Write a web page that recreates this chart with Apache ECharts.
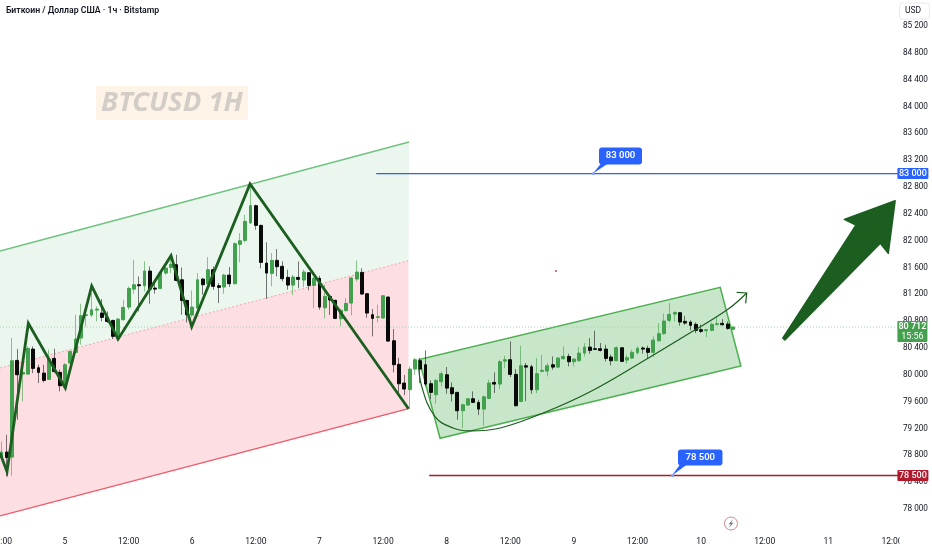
<!DOCTYPE html>
<html><head><meta charset="utf-8">
<style>html,body{margin:0;padding:0;background:#fff}#c{width:932px;height:550px}</style>
<script src="https://cdn.jsdelivr.net/npm/echarts@6/dist/echarts.min.js"></script>
</head><body><div id="c"></div>
<script>
const xTickLabels = ['12:00','5','12:00','6','12:00','7','12:00','8','12:00','9','12:00','10','12:00','11','12:00'];
const firstHour = -12;
const opens = [78768,78848,78773,80215,80011,80011,80384,80105,80026,79931,
80245,80036,79827,80175,80334,80548,80886,80891,80965,80921,
80856,80811,80548,80821,81010,81278,81343,81328,81547,81293,
81288,81517,81601,81641,81417,81109,80891,80995,81427,81358,
81567,81328,81309,81487,81358,81945,82004,82263,82521,82228,
81666,81512,81706,81617,81453,81338,81453,81413,81522,81333,
81438,81000,81169,81110,80836,80956,81070,81428,81527,81209,
80896,80856,80846,81159,80508,80156,79877,79778,80086,80210,
80150,79867,79703,79897,80001,79807,79738,79464,79549,79643,
79589,79489,79648,79887,79862,80205,80225,80006,79603,80135,
80120,79777,80051,80056,80150,80115,80240,80274,80195,80210,
80324,80414,80389,80389,80384,80265,80210,80404,80220,80250,
80330,80399,80394,80335,80508,80613,80812,80906,80926,80797,
80787,80752,80673,80658,80663,80752,80767,80757,80678];
const closes = [78848,78768,80210,80001,80036,80394,80096,80036,79917,80235,
80051,79837,80150,80349,80533,80881,80896,80970,80980,80856,
80796,80573,80831,81005,81288,81343,81328,81547,81278,81278,
81517,81591,81646,81408,81109,80896,81010,81417,81343,81567,
81319,81304,81487,81358,81955,81999,82288,82521,82228,81676,
81517,81706,81612,81433,81338,81458,81423,81532,81333,81438,
81010,81169,81115,80841,80961,81065,81443,81532,81204,80921,
80841,80866,81179,80503,80151,79867,79788,80086,80225,80086,
79862,79738,79917,80016,79802,79718,79464,79554,79643,79589,
79489,79673,79877,79862,80195,80225,80006,79539,80135,80115,
79777,80016,80066,80135,80115,80250,80274,80195,80235,80324,
80414,80364,80379,80364,80245,80210,80404,80200,80255,80335,
80394,80384,80335,80518,80613,80802,80901,80931,80787,80772,
80737,80663,80648,80673,80752,80762,80747,80692,80712];
const highs = [79007,79107,80548,80384,80225,80424,80424,80150,80150,80374,
80389,80076,80175,80364,80896,81060,80970,81219,81020,81129,
80945,80821,80846,81119,81318,81716,81467,81691,81616,81417,
81542,81616,81765,81790,81601,81119,81258,81517,81442,81755,
81616,81368,81507,81607,81975,82114,82387,82810,82536,82238,
81975,81816,81875,81691,81567,81492,81691,81567,81527,81458,
81478,81343,81194,81120,80981,81145,81458,81706,81587,81209,
80981,81045,81189,81169,80682,80255,79997,80126,80250,80250,
80364,79917,79936,80051,80115,79887,79748,79569,79653,79753,
79628,79688,79927,80036,80225,80284,80498,80086,80433,80175,
80150,80250,80299,80175,80274,80264,80423,80314,80245,80414,
80473,80548,80658,80474,80449,80300,80424,80409,80300,80374,
80424,80424,80434,80573,80772,80911,81070,80941,80936,80881,
80812,80782,80747,80673,80782,80861,80832,80797,80722];
const lows = [78734,78485,78495,79330,79604,80001,80026,79877,79887,79926,
80026,79753,79802,80100,80324,80448,80722,80861,80796,80796,
80771,80533,80523,80811,80970,81209,80945,81244,81060,81209,
81278,81492,81517,81393,80896,80781,80861,80970,81194,81328,
81268,81070,81209,81309,81348,81676,81975,82253,82163,81587,
81130,81319,81468,81393,81269,81189,81294,81309,81259,80995,
80971,80841,80891,80831,80722,80946,80886,81393,81194,80851,
80573,80782,80841,80493,80036,79703,79698,79490,80001,79877,
79827,79638,79569,79827,79718,79603,79330,79206,79539,79579,
79400,79241,79638,79728,79787,80100,79966,79529,79598,79608,
79718,79728,80041,79976,80076,80105,80225,80125,80125,80200,
80274,80314,80374,80349,80200,80141,80205,80195,80166,80235,
80300,80315,80250,80265,80494,80598,80782,80797,80732,80747,
80663,80623,80623,80563,80648,80732,80732,80673,80663];

// Drawings on the chart, as [hour after day 5 00:00, price]
const channelUpper = [[-12.26,81846],[64.9,83471]];
const channelMid = [[-12.26,80102],[64.8,81701]];
const channelLower = [[-12.26,77896],[64.8,79495]];
const zigzag = [[-12.26,78835],[-10.94,78556],[-6.92,80768],[0.06,79803],[5.04,81324],[10,80530],[20,81776],[23.9,80717],[34.9,82845],[64.8,79495]];
const boxCorners = [[70.75,79054],[66.8,80228],[123.6,81305],[127.5,80132]];
const curve = [[66.66,80211],[67.3,79823],[69.8,79376],[73.2,79207],[76.4,79163],[82.1,79207],[90.2,79431],[99.06,79748],[109.75,80236],[116,80534],[124.85,80966],[128.6,81220]];
const curveHead = [[126.7,81230],[128.6,81220],[128.4,81066]];
const bigArrow = [[135.4,80545],[149.2,82233],[147,82318],[156.6,82596],[155.3,81812],[153.8,81961],[135.8,80519]];
const redDot = [[92.6,81548]];
const axisEnd = 157.4;
const lastPrice = 80712, countdown = '15:56';
const targetUp = 83000, targetDown = 78500;
const targetUpLine = [[58.7,targetUp],[axisEnd,targetUp]];
const targetDownLine = [[68.7,targetDown],[axisEnd,targetDown]];
const priceLine = [[-12.26,lastPrice],[axisEnd,lastPrice]];

const FONT = 'Roboto';
const fmt = v => { const s = String(Math.round(v)); return s.slice(0,-3)+' '+s.slice(-3); };
const hours = opens.map((_,i)=>firstHour+i);
const wickData = hours.map((h,i)=>[h,opens[i],closes[i],lows[i],highs[i]]);
const bodyData = hours.map((h,i)=>[h,opens[i],closes[i],Math.min(opens[i],closes[i]),Math.max(opens[i],closes[i])]);

function drawSeries(points, z, build){
  return {type:'custom', z, silent:true, clip:false, data:points, encode:{x:0,y:1},
    renderItem:(p,api)=> p.dataIndex===0 ? build(points.map(q=>api.coord(q))) : null};
}
const poly = (pts,style)=>({type:'polygon',shape:{points:pts},style});
const polyline = (pts,style)=>({type:'polyline',shape:{points:pts},style:Object.assign({fill:null},style)});

function callout(anchor,dx,dy,w,h,label){
  return drawSeries([anchor],6,c=>{const [x,y]=c[0];return {type:'group',children:[
    poly([[x,y],[x+dx+2,y+dy+h-1],[x+dx+9,y+dy+h-1]],{fill:'#2962ff'}),
    {type:'circle',shape:{cx:x+0.5,cy:y,r:1.5},style:{fill:'#7f9dff'}},
    {type:'rect',shape:{x:x+dx,y:y+dy,width:w,height:h,r:3},style:{fill:'#2962ff'}},
    {type:'text',x:x+dx+w/2,y:y+dy+h/2,style:{text:label,fill:'#fff',font:'600 9.5px '+FONT,align:'center',verticalAlign:'middle'}}
  ]};});
}
function tag(price,color,label){
  return drawSeries([[axisEnd,price]],7,c=>{const [x,y]=c[0];return {type:'group',children:[
    {type:'rect',shape:{x:x-2,y:y-5.5,width:31,height:11,r:1},style:{fill:color}},
    {type:'text',x:x+13.5,y:y,style:{text:label,fill:'#fff',font:'500 9px '+FONT,align:'center',verticalAlign:'middle'}}
  ]};});
}

const series = [
  drawSeries([channelUpper[0],channelUpper[1],channelMid[1],channelMid[0]],1,c=>poly(c,{fill:'#ebf6ee'})),
  drawSeries([channelMid[0],channelMid[1],channelLower[1],channelLower[0]],1,c=>poly(c,{fill:'#fddfe3'})),
  drawSeries(boxCorners,1,c=>poly(c,{fill:'#c8e6c9',stroke:'#4caf50',lineWidth:1.5})),
  drawSeries(channelUpper,1.5,c=>polyline(c,{stroke:'#6fc27f',lineWidth:1.3})),
  drawSeries(channelMid,1.5,c=>polyline(c,{stroke:'#f5a3ad',lineWidth:1,lineDash:[2,2]})),
  drawSeries(channelLower,1.5,c=>polyline(c,{stroke:'#f0596a',lineWidth:1.3})),
  drawSeries(priceLine,1.6,c=>polyline(c,{stroke:'#a5d6a7',lineWidth:1,lineDash:[1,2]})),
  {type:'candlestick',z:2,silent:true,barWidth:1,data:wickData,
    itemStyle:{color:'transparent',color0:'transparent',borderColor:'rgba(67,160,71,.6)',borderColor0:'rgba(30,30,30,.6)',borderWidth:1}},
  {type:'candlestick',z:3,silent:true,barWidth:3.4,data:bodyData,
    itemStyle:{color:'#43a04e',color0:'#0a0a0a',borderColor:'#43a04e',borderColor0:'#0a0a0a',borderWidth:1}},
  {type:'line',z:5,silent:true,data:zigzag,showSymbol:false,clip:false,lineStyle:{color:'#1b5e20',width:2.8,join:'miter'}},
  {type:'line',z:5,silent:true,data:curve,smooth:0.4,showSymbol:false,clip:false,lineStyle:{color:'#1b5e20',width:1.2}},
  drawSeries(curveHead,5,c=>polyline(c,{stroke:'#1b5e20',lineWidth:1.2})),
  drawSeries(bigArrow,5,c=>poly(c,{fill:'#1b5e20',stroke:'#1b5e20',lineWidth:1.5,lineJoin:'round'})),
  drawSeries(targetUpLine,4,c=>polyline(c,{stroke:'#2962ff',lineWidth:1.3})),
  drawSeries(targetDownLine,4,c=>polyline(c,{stroke:'#b2182b',lineWidth:1.4})),
  {type:'scatter',z:4,silent:true,data:redDot,symbolSize:2,itemStyle:{color:'#b71c1c'}},
  callout([99.6,targetUp],6,-26,43,17,fmt(targetUp)),
  callout([114.5,targetDown],6,-26,44.5,16,fmt(targetDown)),
  tag(targetUp,'#2962ff',fmt(targetUp)),
  tag(targetDown,'#b2182b',fmt(targetDown)),
  drawSeries([[axisEnd,lastPrice]],7,c=>{const [x,y]=c[0];return {type:'group',children:[
    {type:'rect',shape:{x:x-2,y:y-6,width:30,height:21,r:1},style:{fill:'#43a04e'}},
    {type:'text',x:x+13,y:y,style:{text:fmt(lastPrice),fill:'#fff',font:'600 9px '+FONT,align:'center',verticalAlign:'middle'}},
    {type:'text',x:x+13,y:y+10,style:{text:countdown,fill:'#fff',font:'9px '+FONT,align:'center',verticalAlign:'middle'}}
  ]};})
];

const chart = echarts.init(document.getElementById('c'),null,{renderer:'canvas'});
chart.setOption({
  animation:false, backgroundColor:'#fff',
  grid:{left:1.4,width:898,top:-0.8,height:536.6,containLabel:false,outerBoundsMode:'none'},
  xAxis:{type:'value',min:firstHour,max:axisEnd,interval:12,splitLine:{show:false},axisLine:{show:false},axisTick:{show:false},
    axisLabel:{margin:2,color:'#131722',fontFamily:FONT,fontSize:8.5,showMinLabel:true,showMaxLabel:false,
      formatter:v=>{const t=xTickLabels[(v-firstHour)/12];return t===undefined?'':t;}}},
  yAxis:{type:'value',position:'right',min:77600,max:85600,interval:400,splitLine:{show:false},axisLine:{show:false},axisTick:{show:false},
    axisLabel:{margin:3.5,color:'#131722',fontFamily:FONT,fontSize:8.2,padding:[2,0,0,0],
      formatter:v=>(v===77600||v===85600)?'':fmt(v)}},
  series,
  graphic:[
    {type:'rect',z:100,shape:{x:899.5,y:532,width:33,height:18},style:{fill:'#fff'}},
    {type:'rect',z:90,shape:{x:96,y:86,width:152,height:34},style:{fill:'#fdf3e6'}},
    {type:'text',z:91,x:172,y:103,style:{text:'BTCUSD 1H',fill:'#d3cdc7',font:'italic bold 27.5px "Noto Sans"',align:'center',verticalAlign:'middle'}},
    {type:'text',z:91,x:6,y:11,style:{text:'Биткоин / Доллар США · 1ч · Bitstamp',fill:'#131722',font:'600 8.7px '+FONT,verticalAlign:'middle'}},
    {type:'rect',z:91,shape:{x:899.5,y:3,width:30,height:16,r:3},style:{fill:'#fff',stroke:'#e8eaf0',lineWidth:1}},
    {type:'text',z:92,x:913,y:11,style:{text:'USD',fill:'#131722',font:'8.5px '+FONT,align:'center',verticalAlign:'middle'}},
    {type:'circle',z:91,shape:{cx:731,cy:523.5,r:6.5},style:{fill:'#fff',stroke:'#c98a8a',lineWidth:1}},
    {type:'polygon',z:92,shape:{points:[[733,519],[728.5,524.2],[730.8,524.2],[729,528],[733.5,522.8],[731.2,522.8]]},style:{fill:'#7a7a85'}}
  ]
});
</script></body></html>
